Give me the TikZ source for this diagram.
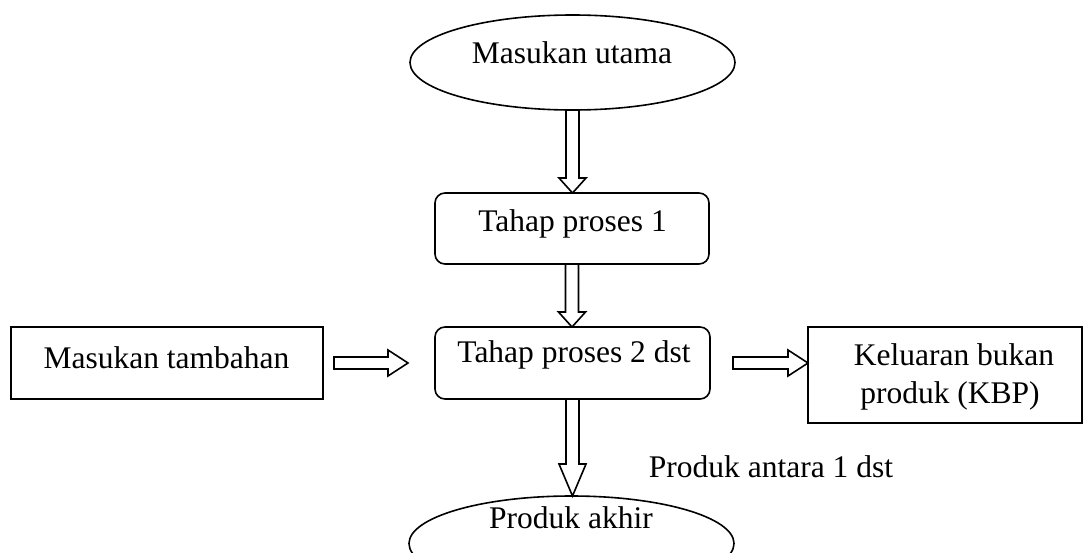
\documentclass[tikz,border=0pt]{standalone}
\usepackage{fontspec}
\setmainfont{Liberation Serif}
\usetikzlibrary{shapes.geometric,calc}
\tikzset{
  every picture/.style={x=1pt,y=-1pt},
  shp/.style={draw=black,line width=1.6pt,fill=white,inner sep=0pt,outer sep=0pt},
  oval/.style={shp,ellipse,minimum width=325pt,minimum height=95pt},
  rbox/.style={shp,rectangle,rounded corners=10pt},
  sbox/.style={shp,rectangle},
  lbl/.style={anchor=base,inner sep=0pt,font=\fontsize{31.5}{36}\selectfont},
  barrow/.style={draw=black,line width=1.6pt,fill=white,line join=miter}
}
\newcommand\vblock[3]{%
  \path[barrow] let \p1=(#1), \p2=(#2) in
    (\x1-6.5,\y1) -- (\x1-6.5,\y2+#3) -- (\x1-13.5,\y2+#3) -- (\x1,\y2)
    -- (\x1+13.5,\y2+#3) -- (\x1+6.5,\y2+#3) -- (\x1+6.5,\y1) -- cycle;}
\newcommand\hblock[3]{%
  \path[barrow] let \p1=(#1), \p2=(#2) in
    (\x1,\y1+6) -- (\x2-#3,\y1+6) -- (\x2-#3,\y1+13) -- (\x2,\y1)
    -- (\x2-#3,\y1-13) -- (\x2-#3,\y1-6) -- (\x1,\y1-6) -- cycle;}
\begin{document}
\begin{tikzpicture}
\useasboundingbox (0,0) rectangle (1085,552);
\clip (0,0) rectangle (1085,552);
% shapes
\node[oval] (e1) at (572.5,62.5) {};
\node[rbox,minimum width=274pt,minimum height=71pt] (b1) at (572,228.5) {};
\node[rbox,minimum width=275pt,minimum height=72pt] (b2) at (572.5,363) {};
\node[sbox,minimum width=312pt,minimum height=72pt] (mt) at (167,363) {};
\node[sbox,minimum width=274pt,minimum height=96pt] (kb) at (945,375) {};
\node[oval] (e2) at (571.5,543.5) {};
% connectors
\vblock{e1.south}{b1.north}{15}
\vblock{b1.south}{b2.north}{15}
\vblock{b2.south}{e2.north}{32}
\coordinate (la) at ($(mt.east)+(11,0)$);
\coordinate (lb) at ($(b2.west)+(-27,0)$);
\hblock{la}{lb}{20}
\coordinate (ra) at ($(b2.east)+(23,0)$);
\hblock{ra}{kb.west}{20}
% texts
\node[lbl] (t1) at (572,63) {Masukan utama};
\node[lbl] (t2) at (572.5,231) {Tahap proses 1};
\node[lbl] (t3) at (574,362) {Tahap proses 2 dst};
\node[lbl] (t4) at (166.5,368) {Masukan tambahan};
\node[lbl] (t5) at (954,365) {Keluaran bukan};
\node[lbl] (t6) at (950,403) {produk (KBP)};
\node[lbl] (t7) at (771,477) {Produk antara 1 dst};
\node[lbl] (t8) at (571,528) {Produk akhir};
\end{tikzpicture}
\end{document}
